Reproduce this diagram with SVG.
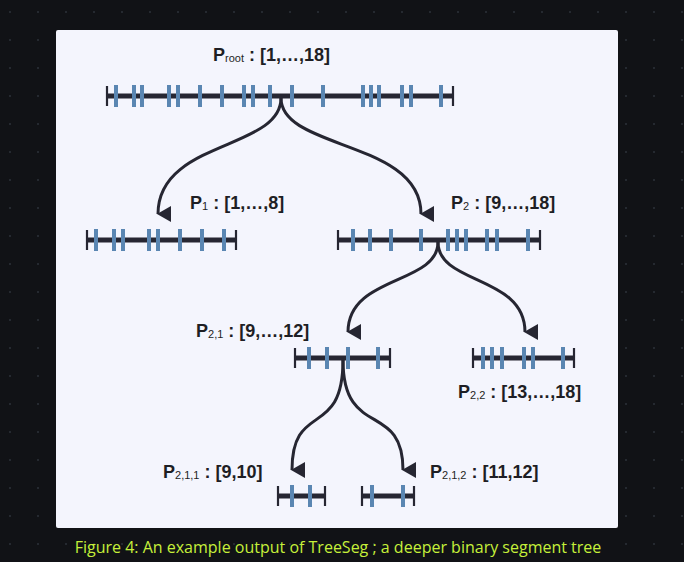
<svg xmlns="http://www.w3.org/2000/svg" width="684" height="562" viewBox="0 0 684 562">
<defs>
<pattern id="dots" width="28" height="28" patternUnits="userSpaceOnUse"><circle cx="10" cy="12" r="1" fill="#2c2f38"/></pattern>
<marker id="ah" viewBox="0 0 16 14" refX="8" refY="13" markerWidth="16" markerHeight="14" markerUnits="userSpaceOnUse" orient="auto-start-reverse"><path d="M0,0 L16,0 L8,14 Z" fill="#262632"/></marker>
</defs>
<style>
.bar{stroke:#262632;stroke-width:5}
.cap{stroke:#262632;stroke-width:2.2}
.tk{stroke:#5a86b2;stroke-width:4}
.con{fill:none;stroke:#262632;stroke-width:3}
text{font-family:"Liberation Sans",Arial,sans-serif;font-weight:bold;font-size:18px;fill:#1e1e24}
.sub{font-size:11px;font-weight:normal}
.cap-t{font-family:"Open Sans","Noto Sans",sans-serif;font-weight:normal;font-size:16px;fill:#c6f03a}
</style>
<rect width="684" height="562" fill="#111216"/>
<rect width="684" height="562" fill="url(#dots)"/>
<rect x="56" y="30" width="562" height="498" rx="2" fill="#f4f5fd"/>

<g id="connectors">
<path class="con" d="M281,98 C281,150 158,140 158,214" marker-end="url(#ah)"/>
<path class="con" d="M281,98 C281,150 421,140 421,214" marker-end="url(#ah)"/>
<path class="con" d="M438,242 C438,285 348,275 348,332" marker-end="url(#ah)"/>
<path class="con" d="M438,242 C438,285 525,275 525,332" marker-end="url(#ah)"/>
<path class="con" d="M343,360 C343,440 292,400 292,470" marker-end="url(#ah)"/>
<path class="con" d="M343,360 C343,440 403,400 403,470" marker-end="url(#ah)"/>
</g>

<g id="root">
<text x="213" y="61">P<tspan class="sub" dy="1">root</tspan><tspan dy="-1"> : [1,…,18]</tspan></text>
<line class="bar" x1="107" y1="96" x2="453" y2="96"/>
<line class="cap" x1="107" y1="86" x2="107" y2="106"/><line class="cap" x1="453" y1="86" x2="453" y2="106"/>
<g class="tk"><line x1="116" y1="85" x2="116" y2="107"/><line x1="134" y1="85" x2="134" y2="107"/><line x1="142" y1="85" x2="142" y2="107"/><line x1="169" y1="85" x2="169" y2="107"/><line x1="178" y1="85" x2="178" y2="107"/><line x1="200" y1="85" x2="200" y2="107"/><line x1="222" y1="85" x2="222" y2="107"/><line x1="244" y1="85" x2="244" y2="107"/><line x1="253" y1="85" x2="253" y2="107"/><line x1="270" y1="85" x2="270" y2="107"/><line x1="292" y1="85" x2="292" y2="107"/><line x1="323" y1="85" x2="323" y2="107"/><line x1="363" y1="85" x2="363" y2="107"/><line x1="371" y1="85" x2="371" y2="107"/><line x1="379" y1="85" x2="379" y2="107"/><line x1="402" y1="85" x2="402" y2="107"/><line x1="411" y1="85" x2="411" y2="107"/><line x1="441" y1="85" x2="441" y2="107"/></g>
</g>

<g id="p1">
<text x="190" y="209">P<tspan class="sub" dy="1">1</tspan><tspan dy="-1"> : [1,…,8]</tspan></text>
<line class="bar" x1="87" y1="240" x2="236" y2="240"/>
<line class="cap" x1="87" y1="230" x2="87" y2="250"/><line class="cap" x1="236" y1="230" x2="236" y2="250"/>
<g class="tk"><line x1="96" y1="229" x2="96" y2="251"/><line x1="114" y1="229" x2="114" y2="251"/><line x1="123" y1="229" x2="123" y2="251"/><line x1="149" y1="229" x2="149" y2="251"/><line x1="158" y1="229" x2="158" y2="251"/><line x1="180" y1="229" x2="180" y2="251"/><line x1="202" y1="229" x2="202" y2="251"/><line x1="224" y1="229" x2="224" y2="251"/></g>
</g>

<g id="p2">
<text x="451" y="209">P<tspan class="sub" dy="1">2</tspan><tspan dy="-1"> : [9,…,18]</tspan></text>
<line class="bar" x1="338" y1="240" x2="540" y2="240"/>
<line class="cap" x1="338" y1="230" x2="338" y2="250"/><line class="cap" x1="540" y1="230" x2="540" y2="250"/>
<g class="tk"><line x1="353" y1="229" x2="353" y2="251"/><line x1="370" y1="229" x2="370" y2="251"/><line x1="391" y1="229" x2="391" y2="251"/><line x1="421" y1="229" x2="421" y2="251"/><line x1="448" y1="229" x2="448" y2="251"/><line x1="457" y1="229" x2="457" y2="251"/><line x1="466" y1="229" x2="466" y2="251"/><line x1="487" y1="229" x2="487" y2="251"/><line x1="497" y1="229" x2="497" y2="251"/><line x1="528" y1="229" x2="528" y2="251"/></g>
</g>

<g id="p21">
<text x="196" y="337">P<tspan class="sub" dy="1">2,1</tspan><tspan dy="-1"> : [9,…,12]</tspan></text>
<line class="bar" x1="295" y1="358" x2="390" y2="358"/>
<line class="cap" x1="295" y1="348" x2="295" y2="368"/><line class="cap" x1="390" y1="348" x2="390" y2="368"/>
<g class="tk"><line x1="309" y1="347" x2="309" y2="369"/><line x1="327" y1="347" x2="327" y2="369"/><line x1="348" y1="347" x2="348" y2="369"/><line x1="378" y1="347" x2="378" y2="369"/></g>
</g>

<g id="p22">
<text x="458" y="398">P<tspan class="sub" dy="1">2,2</tspan><tspan dy="-1"> : [13,…,18]</tspan></text>
<line class="bar" x1="473" y1="358" x2="574" y2="358"/>
<line class="cap" x1="473" y1="348" x2="473" y2="368"/><line class="cap" x1="574" y1="348" x2="574" y2="368"/>
<g class="tk"><line x1="483" y1="347" x2="483" y2="369"/><line x1="492" y1="347" x2="492" y2="369"/><line x1="502" y1="347" x2="502" y2="369"/><line x1="524" y1="347" x2="524" y2="369"/><line x1="533" y1="347" x2="533" y2="369"/><line x1="563" y1="347" x2="563" y2="369"/></g>
</g>

<g id="p211">
<text x="163" y="478">P<tspan class="sub" dy="1">2,1,1</tspan><tspan dy="-1"> : [9,10]</tspan></text>
<line class="bar" x1="278" y1="496" x2="325" y2="496"/>
<line class="cap" x1="278" y1="486" x2="278" y2="506"/><line class="cap" x1="325" y1="486" x2="325" y2="506"/>
<g class="tk"><line x1="292" y1="485" x2="292" y2="507"/><line x1="310" y1="485" x2="310" y2="507"/></g>
</g>

<g id="p212">
<text x="430" y="478">P<tspan class="sub" dy="1">2,1,2</tspan><tspan dy="-1"> : [11,12]</tspan></text>
<line class="bar" x1="362" y1="496" x2="414" y2="496"/>
<line class="cap" x1="362" y1="486" x2="362" y2="506"/><line class="cap" x1="414" y1="486" x2="414" y2="506"/>
<g class="tk"><line x1="372" y1="485" x2="372" y2="507"/><line x1="403" y1="485" x2="403" y2="507"/></g>
</g>

<text class="cap-t" x="338" y="553" text-anchor="middle">Figure 4: An example output of TreeSeg ; a deeper binary segment tree</text>
</svg>
